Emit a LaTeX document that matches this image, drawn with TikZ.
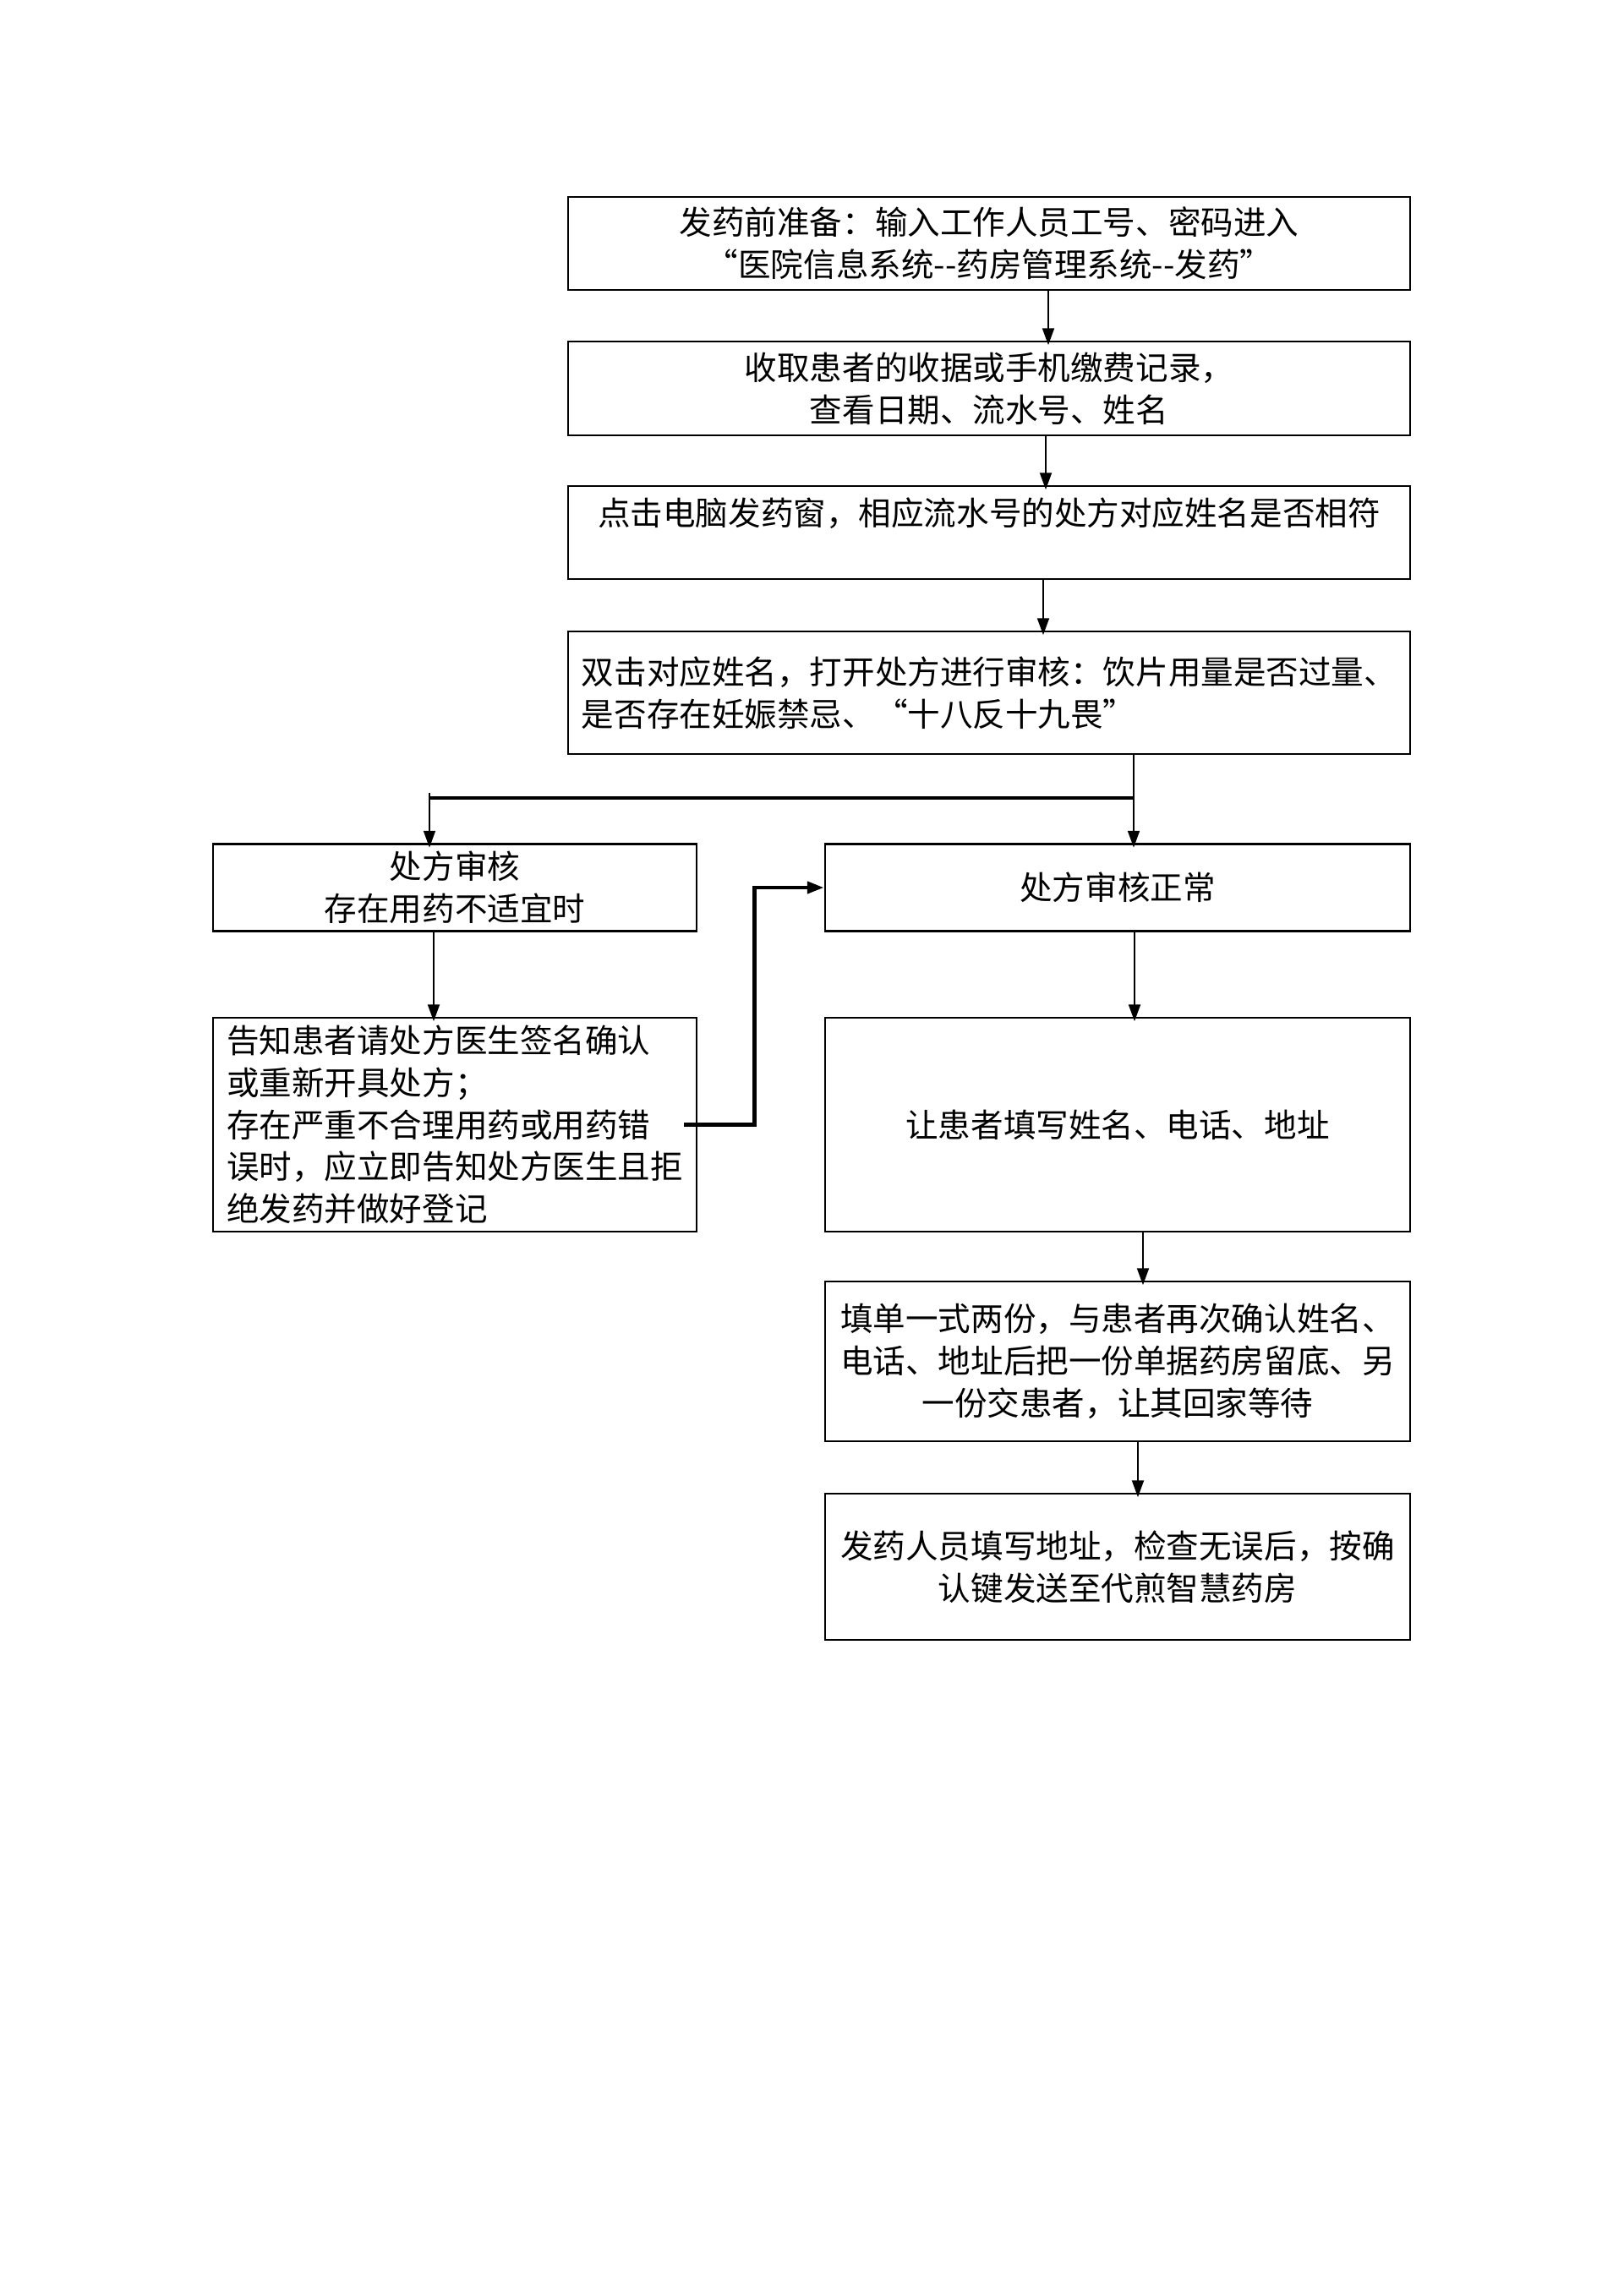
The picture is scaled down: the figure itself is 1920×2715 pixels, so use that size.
\documentclass[tikz,border=0pt]{standalone}
\usepackage{fontspec}
\newfontfamily\cjk{Noto Sans CJK SC}
\usetikzlibrary{arrows.meta}
\newlength\px
\setlength\px{0.109375mm}
\begin{document}
\begin{tikzpicture}[x=0.109375mm,y=-0.109375mm,
    flowbox/.style={draw,line width=0.7pt,inner sep=0pt,align=center,
        font=\cjk\fontsize{12pt}{15.5pt}\selectfont},
    arr/.style={-{Triangle[length=2.2mm,width=1.5mm]},line width=0.9pt,shorten >=-0.6mm}]
    \useasboundingbox (0,0) rectangle (1920,2715);
    \node[flowbox,minimum width=996\px,minimum height=110\px] (prep) at (1170,288)
        {发药前准备：输入工作人员工号、密码进入\\“医院信息系统--药房管理系统--发药”};
    \node[flowbox,minimum width=996\px,minimum height=111\px] (receipt) at (1170,459.5)
        {收取患者的收据或手机缴费记录，\\查看日期、流水号、姓名};
    \node[flowbox,minimum width=996\px,minimum height=110\px] (check) at (1170,630)
        {点击电脑发药窗，相应流水号的处方对应姓名是否相符\\ \mbox{}};
    \node[flowbox,align=left,minimum width=996\px,minimum height=145\px] (review) at (1170,819.5)
        {双击对应姓名，打开处方进行审核：饮片用量是否过量、\\是否存在妊娠禁忌、“十八反十九畏”};
    \node[flowbox,minimum width=572\px,minimum height=103\px] (bad) at (538,1050)
        {处方审核\\存在用药不适宜时};
    \node[flowbox,minimum width=692\px,minimum height=103\px] (ok) at (1322,1050)
        {处方审核正常};
    \node[flowbox,align=left,minimum width=572\px,minimum height=253\px] (notify) at (538,1330.5)
        {告知患者请处方医生签名确认\\或重新开具处方；\\存在严重不合理用药或用药错\\误时，应立即告知处方医生且拒\\绝发药并做好登记};
    \node[flowbox,minimum width=692\px,minimum height=253\px] (fill) at (1322,1330.5)
        {让患者填写姓名、电话、地址};
    \node[flowbox,minimum width=692\px,minimum height=189\px] (copy) at (1322,1610.5)
        {填单一式两份，与患者再次确认姓名、\\电话、地址后把一份单据药房留底、另\\一份交患者，让其回家等待};
    \node[flowbox,minimum width=692\px,minimum height=173\px] (send) at (1322,1853.5)
        {发药人员填写地址，检查无误后，按确\\认键发送至代煎智慧药房};
    \coordinate (fork) at (1341,944);
    \coordinate (forkL) at (508,944);
    \draw[arr] ([xshift=70\px]prep.south) -- ([xshift=70\px]receipt.north);
    \draw[arr] ([xshift=67\px]receipt.south) -- ([xshift=67\px]check.north);
    \draw[arr] ([xshift=64\px]check.south) -- ([xshift=64\px]review.north);
    \draw[arr] (review.south -| fork) -- (ok.north -| fork);
    \draw[line width=1.3pt] (fork) -- (forkL);
    \draw[arr] ([yshift=0.7mm]forkL) -- (bad.north -| forkL);
    \draw[arr] ([xshift=-25\px]bad.south) -- ([xshift=-25\px]notify.north);
    \draw[arr] ([xshift=20\px]ok.south) -- ([xshift=20\px]fill.north);
    \draw[arr,line width=1.5pt,shorten >=0pt] ([xshift=-16\px]notify.east) -- ++(83,0) |- (ok.west);
    \draw[arr] ([xshift=30\px]fill.south) -- ([xshift=30\px]copy.north);
    \draw[arr] ([xshift=24\px]copy.south) -- ([xshift=24\px]send.north);
\end{tikzpicture}
\end{document}
